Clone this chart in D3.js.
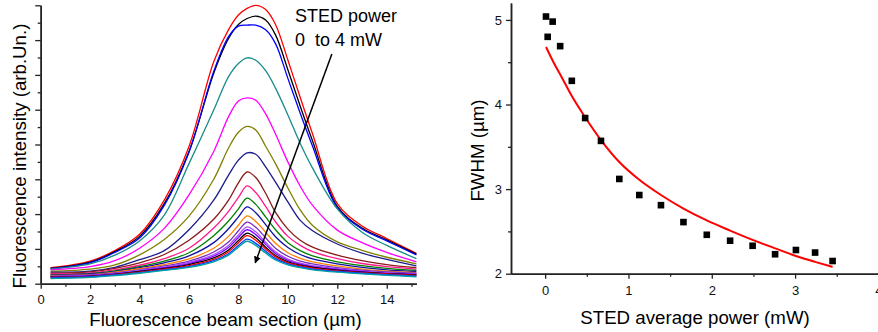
<!DOCTYPE html>
<html>
<head>
<meta charset="utf-8">
<script src="https://cdn.jsdelivr.net/npm/d3@7"></script>
<style>
body { margin: 0; background: #fff; }
svg { display: block; font-family: "Liberation Sans", Arial, sans-serif; }
</style>
</head>
<body>
<svg id="drawing_region"></svg>
<script>
// beam section positions (um) where the profiles were read
const beamPos = [0.4, 2, 3, 4, 5, 6, 7, 7.6, 8, 8.35, 8.7, 9.1, 9.5, 10, 10.5, 11, 12, 13, 14, 15.2];

// fluorescence profiles, STED power rising from 0 to 4 mW
const prof01 = [0.46, 0.65, 0.95, 1.42, 2.40, 3.94, 6.38, 7.30, 7.72, 7.91, 8.00, 7.88, 7.45, 6.43, 5.35, 4.30, 2.30, 1.66, 1.30, 0.87];
const prof02 = [0.44, 0.62, 0.92, 1.36, 2.30, 3.80, 6.05, 7.05, 7.45, 7.62, 7.69, 7.58, 7.15, 6.15, 5.10, 4.10, 2.22, 1.60, 1.26, 0.85];
const prof03 = [0.43, 0.60, 0.90, 1.31, 2.25, 3.78, 6.10, 7.10, 7.40, 7.43, 7.43, 7.30, 6.90, 5.90, 4.90, 3.95, 2.18, 1.57, 1.23, 0.83];
const prof04 = [0.42, 0.57, 0.82, 1.23, 1.97, 3.45, 4.99, 5.95, 6.33, 6.49, 6.42, 6.12, 5.62, 4.85, 4.03, 3.32, 2.15, 1.48, 1.10, 0.72];
const prof05 = [0.40, 0.49, 0.66, 1.02, 1.59, 2.55, 3.80, 4.80, 5.25, 5.34, 5.27, 4.88, 4.30, 3.50, 2.80, 2.25, 1.54, 1.18, 0.90, 0.63];
const prof06 = [0.36, 0.42, 0.54, 0.83, 1.27, 1.94, 3.00, 3.90, 4.35, 4.52, 4.42, 3.95, 3.45, 2.75, 2.12, 1.67, 1.20, 0.96, 0.76, 0.57];
const prof07 = [0.33, 0.36, 0.47, 0.69, 0.95, 1.55, 2.40, 3.12, 3.55, 3.76, 3.72, 3.36, 2.92, 2.35, 1.82, 1.52, 1.14, 0.88, 0.70, 0.51];
const prof08 = [0.30, 0.34, 0.44, 0.60, 0.84, 1.25, 1.85, 2.40, 2.90, 3.21, 3.05, 2.60, 2.05, 1.57, 1.25, 1.05, 0.82, 0.66, 0.55, 0.46];
const prof09 = [0.28, 0.31, 0.40, 0.53, 0.72, 1.02, 1.60, 2.08, 2.48, 2.81, 2.62, 2.22, 1.78, 1.36, 1.10, 0.92, 0.72, 0.58, 0.49, 0.42];
const prof10 = [0.26, 0.29, 0.37, 0.49, 0.65, 0.89, 1.38, 1.80, 2.15, 2.46, 2.28, 1.92, 1.55, 1.18, 0.95, 0.80, 0.63, 0.52, 0.44, 0.38];
const prof11 = [0.25, 0.28, 0.35, 0.46, 0.60, 0.80, 1.18, 1.58, 1.92, 2.21, 2.04, 1.70, 1.35, 1.04, 0.84, 0.71, 0.57, 0.47, 0.40, 0.35];
const prof12 = [0.24, 0.26, 0.33, 0.43, 0.55, 0.71, 1.02, 1.36, 1.68, 1.95, 1.79, 1.48, 1.16, 0.89, 0.73, 0.63, 0.51, 0.42, 0.36, 0.32];
const prof13 = [0.22, 0.25, 0.31, 0.40, 0.51, 0.65, 0.91, 1.20, 1.52, 1.77, 1.62, 1.32, 1.02, 0.79, 0.65, 0.57, 0.46, 0.39, 0.34, 0.30];
const prof14 = [0.21, 0.24, 0.29, 0.38, 0.48, 0.61, 0.84, 1.10, 1.40, 1.63, 1.49, 1.19, 0.92, 0.71, 0.59, 0.52, 0.43, 0.36, 0.31, 0.28];
const prof15 = [0.20, 0.23, 0.28, 0.36, 0.46, 0.58, 0.79, 1.04, 1.33, 1.55, 1.41, 1.13, 0.87, 0.67, 0.56, 0.49, 0.41, 0.35, 0.30, 0.27];
const prof16 = [0.19, 0.22, 0.27, 0.35, 0.44, 0.55, 0.74, 0.97, 1.24, 1.45, 1.32, 1.05, 0.81, 0.63, 0.53, 0.47, 0.39, 0.33, 0.29, 0.25];
const prof17 = [0.18, 0.21, 0.26, 0.33, 0.42, 0.52, 0.70, 0.92, 1.18, 1.38, 1.25, 1.00, 0.77, 0.60, 0.51, 0.45, 0.37, 0.32, 0.28, 0.24];
const prof18 = [0.17, 0.20, 0.25, 0.32, 0.40, 0.49, 0.66, 0.86, 1.10, 1.28, 1.16, 0.93, 0.72, 0.57, 0.48, 0.42, 0.35, 0.30, 0.26, 0.22];
const prof19 = [0.15, 0.18, 0.23, 0.30, 0.38, 0.47, 0.63, 0.82, 1.05, 1.22, 1.10, 0.88, 0.68, 0.54, 0.46, 0.40, 0.33, 0.28, 0.24, 0.20];

const profiles = [prof01, prof02, prof03, prof04, prof05, prof06, prof07, prof08, prof09, prof10,
                  prof11, prof12, prof13, prof14, prof15, prof16, prof17, prof18, prof19];
const lineColors = ["#ff0000", "#000000", "#0000ff", "#1a8a8a", "#ff00ff", "#808000", "#1c1c8c", "#8b1a1a", "#ff1a8c", "#008000",
                    "#1010a0", "#ff8000", "#7a2fc0", "#a64dff", "#8a00ff", "#000000", "#ff0000", "#0040ff", "#00a0a0"];

const beamTicks = [0, 2, 4, 6, 8, 10, 12, 14];

// FWHM vs STED average power
const stedPower = [0.01, 0.03, 0.09, 0.18, 0.32, 0.48, 0.67, 0.89, 1.13, 1.39, 1.66, 1.94, 2.22, 2.49, 2.76, 3.01, 3.24, 3.45];
const fwhm      = [5.04, 4.80, 4.98, 4.69, 4.28, 3.84, 3.57, 3.12, 2.93, 2.81, 2.61, 2.46, 2.39, 2.33, 2.23, 2.28, 2.25, 2.15];
const fitPower  = [0.01, 0.1, 0.2, 0.32, 0.48, 0.67, 0.89, 1.13, 1.39, 1.66, 1.94, 2.22, 2.49, 2.76, 3.01, 3.24, 3.45];
const fitFwhm   = [4.68, 4.50, 4.32, 4.10, 3.85, 3.58, 3.32, 3.11, 2.93, 2.77, 2.63, 2.51, 2.40, 2.30, 2.21, 2.14, 2.08];
const powerTicks = [0, 1, 2, 3, 4];
const fwhmTicks = [2, 3, 4, 5];

const svg = d3.select('#drawing_region')
    .attr('width', 878)
    .attr('height', 332);

function styleAxis(g) {
    g.selectAll('path').attr('stroke', '#222').attr('stroke-width', 1.5);
    g.selectAll('line').attr('stroke', '#222').attr('stroke-width', 1.3);
    g.selectAll('text').attr('font-size', '13px').attr('fill', '#111')
        .attr('font-family', '"Liberation Sans", Arial, sans-serif');
}

// ---------- left panel: beam profiles ----------
const xscale = d3.scaleLinear().domain([0, 15.2]).range([40.7, 416.4]);
const yscale = d3.scaleLinear().domain([0, 8]).range([283.7, 5.3]);

const left = svg.append('g');

left.append('g')
    .attr('transform', 'translate(0,283.7)')
    .call(d3.axisBottom(xscale).tickValues(d3.range(1, 16, 2)).tickSize(3).tickFormat('').tickSizeOuter(0))
    .call(styleAxis);
left.append('g')
    .attr('transform', 'translate(0,283.7)')
    .call(d3.axisBottom(xscale).tickValues(beamTicks).tickSize(5).tickPadding(6).tickSizeOuter(0))
    .call(styleAxis);

left.append('g')
    .attr('transform', 'translate(40.7,0)')
    .call(d3.axisLeft(yscale).tickValues(d3.range(0.5, 8, 1)).tickSize(3).tickFormat('').tickSizeOuter(0))
    .call(styleAxis);
left.append('g')
    .attr('transform', 'translate(40.7,0)')
    .call(d3.axisLeft(yscale).ticks(8).tickSize(5.5).tickFormat('').tickSizeOuter(0))
    .call(styleAxis);

const profLine = d3.line()
    .x((d, i) => xscale(beamPos[i]))
    .y(d => yscale(d))
    .curve(d3.curveCatmullRom.alpha(0.5));

left.selectAll('path.prof')
    .data(profiles)
    .enter()
    .append('path')
    .attr('class', 'prof')
    .attr('d', profLine)
    .attr('fill', 'none')
    .attr('stroke', (d, i) => lineColors[i])
    .attr('stroke-width', 1.3);

// annotation arrow
svg.append('defs').append('marker')
    .attr('id', 'head')
    .attr('viewBox', '0 0 10 10')
    .attr('refX', 9).attr('refY', 5)
    .attr('markerWidth', 7).attr('markerHeight', 7)
    .attr('markerUnits', 'userSpaceOnUse')
    .attr('orient', 'auto')
    .append('path')
    .attr('d', 'M0,0 L10,5 L0,10 Z')
    .attr('fill', '#000');

left.append('line')
    .attr('x1', xscale(11.78)).attr('y1', yscale(6.6))
    .attr('x2', xscale(8.68)).attr('y2', yscale(0.6))
    .attr('stroke', '#000')
    .attr('stroke-width', 1.5)
    .attr('marker-end', 'url(#head)');

left.append('text')
    .attr('x', 295).attr('y', 22)
    .attr('font-size', '18px')
    .text('STED power');
left.append('text')
    .attr('x', 295).attr('y', 45.5)
    .attr('font-size', '18px')
    .style('white-space', 'pre')
    .text('0  to 4 mW');

left.append('text')
    .attr('x', 225.5).attr('y', 326)
    .attr('text-anchor', 'middle')
    .attr('font-size', '18.7px')
    .text('Fluorescence beam section (\u00b5m)');
left.append('text')
    .attr('transform', 'translate(26,156) rotate(-90)')
    .attr('text-anchor', 'middle')
    .attr('font-size', '18.7px')
    .text('Fluorescence intensity (arb.Un.)');

// ---------- right panel: FWHM ----------
const pscale = d3.scaleLinear().domain([-0.41, 4]).range([511, 878.4]);
const fscale = d3.scaleLinear().domain([2, 5.2]).range([273.7, 3.0]);

const right = svg.append('g');

right.append('g')
    .attr('transform', 'translate(0,273.7)')
    .call(d3.axisBottom(pscale).tickValues([0.5, 1.5, 2.5, 3.5]).tickSize(3).tickFormat('').tickSizeOuter(0))
    .call(styleAxis);
right.append('g')
    .attr('transform', 'translate(0,273.7)')
    .call(d3.axisBottom(pscale).tickValues(powerTicks).tickSize(5).tickPadding(7).tickFormat(d3.format('d')).tickSizeOuter(0))
    .call(styleAxis);

right.append('g')
    .attr('transform', 'translate(511,0)')
    .call(d3.axisLeft(fscale).tickValues([2.5, 3.5, 4.5]).tickSize(3).tickFormat('').tickSizeOuter(0))
    .call(styleAxis);
right.append('g')
    .attr('transform', 'translate(511,0)')
    .call(d3.axisLeft(fscale).tickValues(fwhmTicks).tickSize(5).tickPadding(4).tickFormat(d3.format('d')).tickSizeOuter(0))
    .call(styleAxis);

const fitLine = d3.line()
    .x((d, i) => pscale(fitPower[i]))
    .y(d => fscale(d))
    .curve(d3.curveMonotoneX);

right.append('path')
    .datum(fitFwhm)
    .attr('d', fitLine)
    .attr('fill', 'none')
    .attr('stroke', '#ff0000')
    .attr('stroke-width', 2);

right.selectAll('rect.pt')
    .data(fwhm)
    .enter()
    .append('rect')
    .attr('class', 'pt')
    .attr('x', (d, i) => pscale(stedPower[i]) - 3.3)
    .attr('y', d => fscale(d) - 3.3)
    .attr('width', 6.6)
    .attr('height', 6.6)
    .attr('fill', '#000');

right.append('text')
    .attr('x', 695).attr('y', 323.5)
    .attr('text-anchor', 'middle')
    .attr('font-size', '18.7px')
    .text('STED average power (mW)');
right.append('text')
    .attr('transform', 'translate(484,150.5) rotate(-90)')
    .attr('text-anchor', 'middle')
    .attr('font-size', '18.7px')
    .text('FWHM (\u00b5m)');
</script>
</body>
</html>
